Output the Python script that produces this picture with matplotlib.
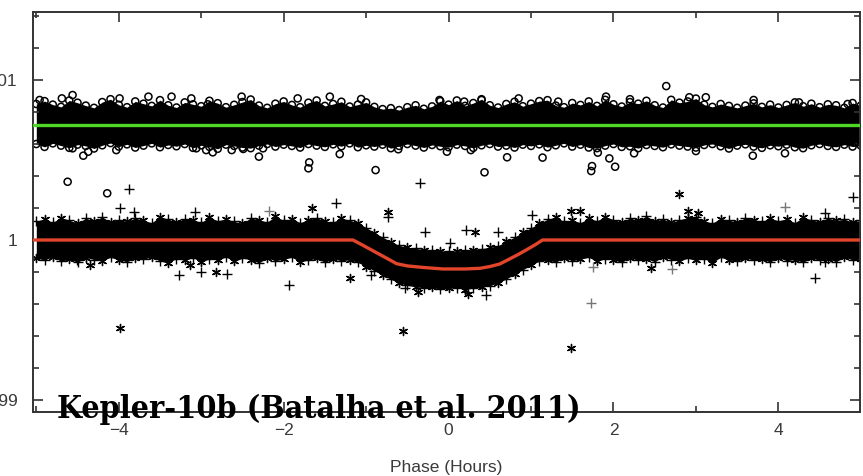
import numpy as np
import matplotlib.pyplot as plt
from matplotlib import font_manager
from matplotlib.ticker import MultipleLocator, FuncFormatter

# band edges sampled every 0.1 h, values in ppm relative to 1
phase_grid = np.round(np.arange(-5.0, 5.001, 0.1), 2)

occ_top = [850, 868, 846, 832, 872, 858, 840, 826, 862, 880,
           845, 830, 866, 852, 838, 874, 842, 828, 860, 848,
           836, 870, 855, 830, 845, 862, 878, 840, 826, 852,
           866, 844, 830, 858, 872, 838, 850, 864, 834, 846,
           860, 832, 818, 824, 812, 830, 842, 820, 835, 868,
           846, 872, 838, 856, 880, 842, 828, 850, 864, 836,
           852, 868, 874, 840, 830, 856, 844, 866, 838, 876,
           848, 834, 862, 852, 870, 842, 828, 876, 858, 866,
           884, 846, 832, 850, 838, 826, 840, 854, 832, 846,
           828, 844, 860, 836, 852, 830, 848, 842, 826, 856,
           840]
occ_bot = [600, 582, 604, 590, 576, 596, 588, 572, 592, 606,
           584, 598, 578, 590, 604, 580, 594, 586, 600, 576,
           592, 582, 570, 596, 588, 578, 574, 590, 600, 584,
           596, 588, 578, 600, 590, 582, 598, 586, 604, 580,
           592, 584, 596, 574, 588, 600, 590, 578, 594, 586,
           580, 596, 588, 576, 592, 600, 584, 590, 578, 596,
           588, 598, 580, 592, 604, 584, 596, 578, 574, 590,
           600, 582, 586, 574, 594, 588, 580, 598, 590, 584,
           578, 594, 600, 586, 572, 590, 598, 584, 576, 592,
           586, 596, 580, 574, 592, 600, 588, 582, 596, 584,
           590]
tr_top = [118, 132, 110, 140, 124, 106, 136, 120, 144, 112,
          128, 116, 138, 122, 108, 146, 130, 114, 134, 126,
          110, 142, 120, 132, 116, 104, 138, 126, 112, 148,
          122, 134, 108, 128, 140, 118, 112, 136, 124, 108,
          78, 46, 18, -10, -34, -44, -52, -60, -62, -68,
          -66, -70, -62, -60, -54, -46, -36, -8, 18, 48,
          76, 104, 130, 142, 116, 124, 108, 136, 120, 146,
          128, 112, 138, 122, 150, 118, 132, 110, 126, 140,
          144, 118, 106, 134, 124, 112, 140, 128, 116, 136,
          120, 132, 108, 142, 126, 114, 138, 122, 130, 112,
          124]
tr_bot = [-112, -126, -104, -134, -118, -140, -110, -122, -130, -108,
          -124, -136, -114, -120, -106, -132, -142, -116, -128, -110,
          -138, -118, -126, -106, -134, -114, -122, -144, -112, -130,
          -120, -108, -136, -126, -114, -140, -118, -130, -124, -140,
          -166, -192, -220, -246, -268, -284, -292, -300, -296, -308,
          -302, -298, -310, -300, -296, -286, -268, -244, -214, -186,
          -158, -132, -126, -138, -112, -130, -120, -108, -134, -116,
          -124, -140, -110, -128, -118, -136, -106, -122, -132, -114,
          -128, -116, -142, -108, -124, -134, -112, -126, -120, -138,
          -110, -130, -122, -140, -114, -126, -118, -136, -108, -124,
          -120]

# loose points (phase h, ppm)
circ_x = [-4.96, -4.69, -4.56, -3.99, -3.64, -3.36, -3.12, -2.92, -2.51, -1.83,
          -1.44, -1.06, -0.11, 0.19, 0.40, 0.85, 1.33, 1.91, 2.20, 2.64,
          2.92, 3.12, 3.70, 4.25, 4.84,
          -4.62, -4.14, -4.56, -4.43, -4.37, -4.03, -3.06, -2.94, -2.86, -2.63,
          -2.49, -2.30, -2.25, -1.70, -1.69, -1.32, -0.885, -0.61, -0.02, 0.27,
          0.436, 0.71, 1.14, 1.73, 1.74, 1.81, 1.95, 2.02, 2.25, 3.00,
          3.69, 4.08]
circ_y = [875, 885, 906, 885, 896, 896, 885, 848, 896, 885,
          896, 881, 875, 865, 875, 885, 865, 896, 880, 962,
          892, 892, 875, 860, 850,
          364, 292, 573, 527, 552, 562, 573, 562, 548, 562,
          569, 521, 573, 448, 485, 537, 437, 567, 552, 562,
          423, 517, 515, 431, 462, 546, 510, 458, 542, 556,
          527, 542]
plus_x = [-4.51, -3.99, -3.87, -3.82, -3.27, -3.07, -3.00, -2.69, -1.94, -1.37,
          -0.94, -0.74, -0.53, -0.35, -0.28, 0.02, 0.21, 0.46, 0.60, 1.01,
          4.45, 4.56, 4.57, 4.90]
plus_y = [-125, 198, 317, 177, -219, 177, -202, -215, -281, 229,
          -219, 146, -298, 358, 52, -21, 62, -344, 52, 156,
          -235, -135, 171, 271]
plus_gray_x = [-2.18, 1.73, 1.75, 2.71, 4.08]
plus_gray_y = [181, -396, -167, -183, 208]
ast_x = [-4.35, -3.98, -3.13, -2.82, -1.66, -1.19, -0.74, -0.55, -0.37, 0.23,
         0.32, 1.49, 1.49, 1.60, 2.46, 2.79, 2.91, 3.03]
ast_y = [-156, -550, -156, -202, 202, -235, 173, -569, -327, -340,
         52, 181, -675, 181, -177, 285, 181, 171]

# fitted curves
occ_level = 719
model_x = [-5.2, -1.16, -1.05, -0.95, -0.85, -0.75, -0.63, -0.5, -0.3, -0.07,
           0.2, 0.38, 0.5, 0.62, 0.75, 0.85, 0.95, 1.05, 1.14, 5.2]
model_y = [0, 0, -30, -58, -86, -114, -148, -162, -172, -181,
           -181, -177, -166, -150, -116, -89, -60, -30, 0, 0]


def flux(ppm):
    return 1 + np.asarray(ppm, dtype=float) * 1e-6


fig = plt.figure(figsize=(8.63, 4.76), dpi=100)
ax = fig.add_axes([33 / 863, 64.5 / 476, 827 / 863, 399.5 / 476])

ax.fill_between(phase_grid, flux(occ_bot), flux(occ_top), color='black', lw=0, zorder=1)
ax.fill_between(phase_grid, flux(tr_bot), flux(tr_top), color='black', lw=0, zorder=1)

circ_kw = dict(marker='o', s=26, facecolors='none', edgecolors='black', linewidths=1.1, zorder=2)
ax.scatter(phase_grid, flux(occ_top), **circ_kw)
ax.scatter(phase_grid, flux(occ_bot), **circ_kw)
ax.scatter(circ_x, flux(circ_y), **circ_kw)

plus_kw = dict(marker='+', s=60, c='black', linewidths=1.0, zorder=2)
ast_kw = dict(marker=(6, 2, 0), s=34, c='black', linewidths=1.0, zorder=2)
ax.scatter(phase_grid[::2], flux(tr_top[::2]), **plus_kw)
ax.scatter(phase_grid[1::2], flux(tr_top[1::2]), **ast_kw)
ax.scatter(phase_grid[1::2], flux(tr_bot[1::2]), **plus_kw)
ax.scatter(phase_grid[::2], flux(tr_bot[::2]), **ast_kw)
ax.scatter(plus_x, flux(plus_y), **plus_kw)
ax.scatter(plus_gray_x, flux(plus_gray_y), marker='+', s=60, c='#777777', linewidths=1.0, zorder=2)
ax.scatter(ast_x, flux(ast_y), **ast_kw)

ax.axhline(flux(occ_level), color='#4fd626', lw=2.4, zorder=3)
ax.plot(model_x, flux(model_y), color='#e2452a', lw=2.4, zorder=3)

# 160 px per 0.001 in flux
ax.set_xlim(-5.04, 4.99)
ax.set_ylim(1 - 171.5 * 6.25e-6, 1 + 228 * 6.25e-6)

ax.xaxis.set_major_locator(MultipleLocator(2))
ax.xaxis.set_minor_locator(MultipleLocator(1))
ax.yaxis.set_major_locator(MultipleLocator(0.001))
ax.yaxis.set_minor_locator(MultipleLocator(0.0002))
ax.yaxis.set_major_formatter(FuncFormatter(lambda v, p: f"{v:g}"))

ax.tick_params(which='both', direction='in', top=True, right=True, colors='#333333',
               labelsize=12.5, labelcolor='#3a3a3a', width=1.2)
ax.tick_params(which='major', length=7)
ax.tick_params(which='minor', length=4)
ax.tick_params(axis='x', pad=8)
ax.tick_params(axis='y', pad=11)
for s in ax.spines.values():
    s.set_color('#333333')
    s.set_linewidth(1.4)
for lab in ax.get_xticklabels() + ax.get_yticklabels():
    lab.set_family(['Liberation Sans', 'DejaVu Sans'])

ax.set_xlabel('Phase (Hours)', fontsize=12.5, color='#3a3a3a', labelpad=16,
              family=['Liberation Sans', 'DejaVu Sans'])

# condensed bold serif for the caption, if that face is installed
cond = [f for f in font_manager.fontManager.ttflist
        if f.name.startswith('DejaVu Serif') and 'ondensed' in (f.fname + f.stretch)
        and f.weight in (700, 'bold') and f.style == 'normal']
if cond:
    title_font = dict(fontproperties=font_manager.FontProperties(fname=cond[0].fname, size=23))
else:
    title_font = dict(family='DejaVu Serif', fontweight='bold', fontsize=17.7)
fig.text(57 / 863, 1 - 418 / 476, 'Kepler-10b (Batalha et al. 2011)',
         color='black', va='baseline', ha='left', **title_font)

fig.savefig('out.png', dpi=100)
